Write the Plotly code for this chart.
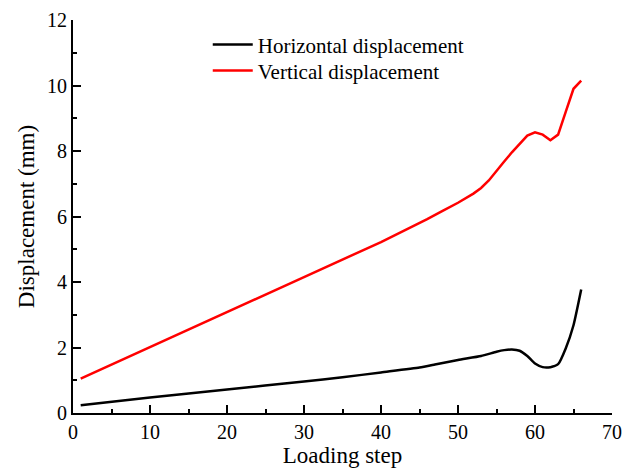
import plotly.graph_objects as go

# Horizontal displacement (black)
h_step = [1, 10, 20, 30, 35, 40, 45, 47, 50, 53, 55, 56, 57, 58, 59, 60, 61, 62, 63, 64, 65, 66]
h_disp = [0.24, 0.47, 0.72, 0.96, 1.09, 1.24, 1.39, 1.48, 1.62, 1.74, 1.87, 1.92, 1.94, 1.90, 1.74, 1.51, 1.40, 1.40, 1.49, 1.98, 2.68, 3.77]

# Vertical displacement (red)
v_step = [1, 10, 20, 30, 40, 44, 46, 48, 50, 52, 53, 54, 55, 56, 57, 58, 59, 60, 61, 62, 63, 64, 65, 66]
v_disp = [1.05, 2.02, 3.09, 4.15, 5.22, 5.67, 5.92, 6.17, 6.42, 6.70, 6.87, 7.10, 7.40, 7.68, 7.96, 8.22, 8.47, 8.57, 8.50, 8.33, 8.50, 9.20, 9.90, 10.15]

x_ticks = [0, 10, 20, 30, 40, 50, 60, 70]
y_ticks = [0, 2, 4, 6, 8, 10, 12]

FONT = "Liberation Serif, Times New Roman, serif"

fig = go.Figure()
fig.add_trace(go.Scatter(x=h_step, y=h_disp, mode="lines", name="Horizontal displacement",
                         line=dict(color="black", width=2.5, shape="spline", smoothing=0.5),
                         legend="legend", showlegend=True))
fig.add_trace(go.Scatter(x=v_step, y=v_disp, mode="lines", name="Vertical displacement",
                         line=dict(color="#ff0000", width=2.5), legend="legend2", showlegend=True))

leg_common = dict(xanchor="left", yanchor="top", bgcolor="rgba(0,0,0,0)",
                  font=dict(size=21, family=FONT), itemwidth=40)

fig.update_layout(
    width=622, height=472,
    showlegend=True,
    margin=dict(l=73, r=10, t=20, b=59, autoexpand=False),
    plot_bgcolor="white", paper_bgcolor="white",
    font=dict(family=FONT, size=20, color="black"),
    legend=dict(x=0.25, y=0.989, **leg_common),
    legend2=dict(x=0.25, y=0.923, **leg_common),
    xaxis=dict(range=[0, 70], tickvals=x_ticks, ticktext=[str(v) for v in x_ticks],
               showgrid=False, zeroline=False, showline=True, linecolor="black", linewidth=2,
               ticks="inside", ticklen=8, tickwidth=2, tickcolor="black",
               minor=dict(dtick=5, ticks="inside", ticklen=4, tickwidth=2, tickcolor="black", showgrid=False),
               title=dict(text="Loading step", font=dict(size=23, family=FONT), standoff=2),
               tickfont=dict(size=20, family=FONT), automargin=False),
    yaxis=dict(range=[0, 12], tickvals=y_ticks, ticktext=[str(v) for v in y_ticks],
               showgrid=False, zeroline=False, showline=True, linecolor="black", linewidth=2,
               ticks="inside", ticklen=8, tickwidth=2, tickcolor="black",
               minor=dict(dtick=1, ticks="inside", ticklen=4, tickwidth=2, tickcolor="black", showgrid=False),
               title=dict(text="Displacement (mm)", font=dict(size=23, family=FONT), standoff=6),
               tickfont=dict(size=20, family=FONT), automargin=False),
)

fig.write_html("out.html", config={"displayModeBar": False},
               post_script="document.body.style.margin='0';")
